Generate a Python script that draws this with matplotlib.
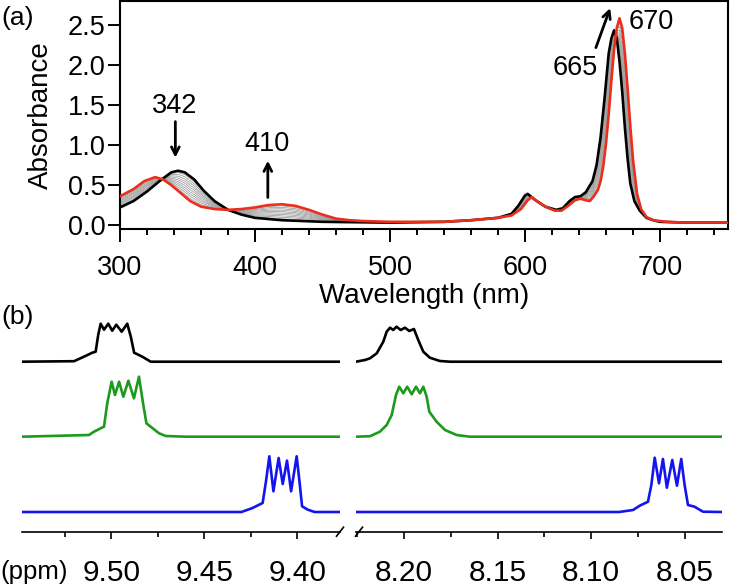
import numpy as np
import matplotlib
matplotlib.use("Agg")
import matplotlib.pyplot as plt
from matplotlib.ticker import MultipleLocator, FormatStrFormatter
from matplotlib.lines import Line2D

plt.rcParams['font.family'] = ['Liberation Sans', 'DejaVu Sans']

# ---------------- Panel (a): UV-vis data ----------------
wl_black = [300, 310, 320, 330, 338, 343, 348, 355, 362, 370, 380, 390, 400, 420, 450,
            500, 540, 560, 580, 590, 595, 600, 602, 607, 615, 623, 628, 633, 637, 641,
            645, 650, 653, 656, 659, 662, 664, 666, 668, 670, 672, 674, 676, 678, 681,
            685, 690, 695, 700, 720, 750]
abs_black = [0.22, 0.30, 0.42, 0.56, 0.66, 0.68, 0.66, 0.57, 0.43, 0.30, 0.19, 0.13, 0.09, 0.06, 0.04,
             0.03, 0.04, 0.06, 0.09, 0.14, 0.24, 0.37, 0.39, 0.32, 0.23, 0.19, 0.21, 0.30, 0.35, 0.36,
             0.41, 0.55, 0.75, 1.10, 1.60, 2.15, 2.34, 2.44, 2.34, 2.05, 1.67, 1.22, 0.83, 0.52, 0.30,
             0.18, 0.09, 0.06, 0.04, 0.03, 0.03]

wl_red = [300, 310, 318, 326, 332, 338, 345, 352, 360, 370, 380, 390, 400, 410, 420, 430,
          440, 450, 460, 470, 480, 500, 540, 560, 580, 590, 597, 602, 605, 608, 615, 622,
          627, 632, 637, 641, 645, 648, 651, 654, 656, 658, 660, 662, 664, 666, 668, 670,
          672, 674, 676, 678, 680, 683, 686, 690, 695, 705, 720, 750]
abs_red = [0.36, 0.45, 0.55, 0.60, 0.57, 0.50, 0.40, 0.30, 0.23, 0.20, 0.19, 0.20, 0.22, 0.25, 0.26, 0.24,
           0.19, 0.13, 0.08, 0.06, 0.05, 0.04, 0.04, 0.06, 0.09, 0.12, 0.20, 0.31, 0.35, 0.31, 0.23, 0.18,
           0.18, 0.24, 0.31, 0.33, 0.31, 0.30, 0.36, 0.44, 0.55, 0.74, 1.02, 1.39, 1.81, 2.20, 2.47, 2.59,
           2.47, 2.15, 1.71, 1.24, 0.82, 0.39, 0.20, 0.10, 0.06, 0.04, 0.03, 0.03]

# titration fractions for the intermediate (grey) spectra
titration_fractions = [0.09, 0.18, 0.27, 0.36, 0.45, 0.54, 0.63, 0.72, 0.81, 0.90]

# annotations: (text, x, y)
ann_labels = ["342", "410", "665", "670"]
ann_x = [340.5, 409, 637.5, 693.5]
ann_y = [1.49, 1.02, 1.97, 2.54]

# ---------------- Panel (b): NMR data ----------------
ppm_black_L = [9.548, 9.520, 9.5147, 9.5102, 9.5084, 9.5070, 9.5057, 9.5039, 9.5016, 9.4995,
               9.4973, 9.4944, 9.4914, 9.4895, 9.4877, 9.4833, 9.4788, 9.377]
int_black_L = [0, 0.5, 5, 9, 10, 27, 38, 32, 38, 31, 37, 30, 38, 25, 9, 5, 0, 0]

ppm_green_L = [9.548, 9.5120, 9.5093, 9.5057, 9.5039, 9.5022, 9.4998, 9.4980, 9.4958, 9.4935,
               9.4908, 9.4878, 9.4851, 9.4829, 9.4811, 9.4788, 9.4743, 9.4707, 9.460, 9.377]
int_green_L = [0, 1.7, 5, 8.4, 10, 33, 55, 41.7, 55, 40, 56, 38.4, 60, 33.4, 13.4, 10, 3.4, 0.7, 0, 0]

ppm_blue_L = [9.548, 9.430, 9.4240, 9.4204, 9.4186, 9.4168, 9.4150, 9.4128, 9.4100, 9.4078,
              9.4055, 9.4033, 9.4003, 9.3988, 9.3974, 9.3944, 9.3907, 9.377]
int_blue_L = [0, 0, 4, 7.4, 9, 30.7, 55.7, 20.7, 54, 28, 51.4, 20.7, 55.7, 30.7, 5.7, 2.4, 0, 0]

ppm_black_R = [8.2258, 8.2210, 8.2183, 8.2147, 8.2112, 8.2094, 8.2076, 8.2059, 8.2041, 8.2019,
               8.1996, 8.1973, 8.1948, 8.1925, 8.1898, 8.1863, 8.1809, 8.1756, 8.030]
int_black_R = [0, 1.7, 3.4, 8.4, 20, 30, 34, 31.7, 35, 31.7, 34, 30.7, 32.7, 21.7, 10, 4, 0.7, 0, 0]

ppm_green_R = [8.2258, 8.2183, 8.2130, 8.2094, 8.2067, 8.2044, 8.2027, 8.2005, 8.1984, 8.1960,
               8.1937, 8.1916, 8.1898, 8.1880, 8.1866, 8.1827, 8.1782, 8.1720, 8.165, 8.030]
int_green_R = [0, 0.5, 5, 11.7, 21.7, 41.7, 50, 43.4, 50, 42.4, 50, 43.4, 50, 40, 25, 15, 6.7, 1.7, 0, 0]

ppm_blue_R = [8.2258, 8.085, 8.0776, 8.0740, 8.0696, 8.0678, 8.0660, 8.0637, 8.0616, 8.0595,
              8.0566, 8.0541, 8.0518, 8.0500, 8.0482, 8.0447, 8.0402, 8.030]
int_blue_R = [0, 0, 2, 6.3, 10.3, 27, 54.3, 28.7, 53, 24.3, 52, 26.3, 53, 27, 7, 5.3, 0.3, 0]

nmr_xticks_L = [9.50, 9.45, 9.40]
nmr_xticks_R = [8.20, 8.15, 8.10, 8.05]

# vertical offsets of the stacked traces (layout)
offsets = {"black": 170.0, "green": 95.0, "blue": 19.7}

C_RED = '#e8301c'
C_GREEN = '#1c9a1c'
C_BLUE = '#1414ee'

W, H = 730, 586
fig = plt.figure(figsize=(W / 100, H / 100), dpi=100)

def fx(px):
    return px / W

def fy(py):
    return 1 - py / H

FS_TICK_A = 19.5
FS_LABEL = 20

# ---------------- Panel (a) ----------------
ax = fig.add_axes([fx(120), fy(229), (727.5 - 120) / W, 228 / H])
grid = np.union1d(wl_black, wl_red)
b_i = np.interp(grid, wl_black, abs_black)
r_i = np.interp(grid, wl_red, abs_red)
for f in titration_fractions:
    ax.plot(grid, (1 - f) * b_i + f * r_i, color='0.6', lw=0.55, zorder=2)
ax.plot(wl_black, abs_black, color='black', lw=1.9, zorder=3)
ax.plot(wl_red, abs_red, color=C_RED, lw=1.9, zorder=4)

ax.set_xlim(300, 750)
ax.set_ylim(-0.05, 2.807)
ax.xaxis.set_major_locator(MultipleLocator(100))
ax.xaxis.set_minor_locator(MultipleLocator(20))
ax.yaxis.set_major_locator(MultipleLocator(0.5))
ax.yaxis.set_major_formatter(FormatStrFormatter('%.1f'))
ax.tick_params(axis='x', which='major', direction='out', length=9, width=1.4,
               labelsize=FS_TICK_A, pad=10)
ax.tick_params(axis='y', which='major', direction='out', length=9, width=1.4,
               labelsize=FS_TICK_A, pad=1.5)
ax.tick_params(which='minor', direction='out', length=4.5, width=1.4)
for s in ax.spines.values():
    s.set_linewidth(1.5)
ax.set_xlabel('Wavelength (nm)', fontsize=FS_LABEL)
ax.xaxis.set_label_coords(0.5, -0.235)
ax.set_ylabel('Absorbance', fontsize=FS_LABEL)
ax.yaxis.set_label_coords(-0.108, 0.5)

for t, x, y in zip(ann_labels, ann_x, ann_y):
    ax.text(x, y, t, fontsize=FS_TICK_A, ha='center', va='center')

arrow_kw = dict(arrowstyle='->,head_length=0.55,head_width=0.28', color='black', lw=2.0)
ax.annotate('', xy=(341, 0.81), xytext=(341, 1.33), arrowprops=arrow_kw)
ax.annotate('', xy=(409.5, 0.84), xytext=(409.5, 0.31), arrowprops=arrow_kw)
ax.annotate('', xy=(663.8, 2.75), xytext=(651.8, 2.19), arrowprops=arrow_kw)

fig.text(fx(1), fy(17.5), '(a)', fontsize=19, ha='left', va='center')

# ---------------- Panel (b) ----------------
bottom_px, top_px = 531.7, 310
axL = fig.add_axes([fx(22), fy(bottom_px), 318 / W, (bottom_px - top_px) / H])
axR = fig.add_axes([fx(356), fy(bottom_px), 366 / W, (bottom_px - top_px) / H])

axL.plot(ppm_black_L, np.array(int_black_L) + offsets["black"], color='black', lw=1.9)
axL.plot(ppm_green_L, np.array(int_green_L) + offsets["green"], color=C_GREEN, lw=1.9)
axL.plot(ppm_blue_L, np.array(int_blue_L) + offsets["blue"], color=C_BLUE, lw=1.9)
axR.plot(ppm_black_R, np.array(int_black_R) + offsets["black"], color='black', lw=1.9)
axR.plot(ppm_green_R, np.array(int_green_R) + offsets["green"], color=C_GREEN, lw=1.9)
axR.plot(ppm_blue_R, np.array(int_blue_R) + offsets["blue"], color=C_BLUE, lw=1.9)

axL.set_xlim(9.548, 9.377)
axR.set_xlim(8.2258, 8.030)
for a, ticks in ((axL, nmr_xticks_L), (axR, nmr_xticks_R)):
    a.set_ylim(0, bottom_px - top_px)
    a.set_xticks(ticks)
    a.xaxis.set_major_formatter(FormatStrFormatter('%.2f'))
    a.xaxis.set_minor_locator(MultipleLocator(0.025))
    a.set_yticks([])
    for k in ('left', 'right', 'top'):
        a.spines[k].set_visible(False)
    a.spines['bottom'].set_linewidth(1.2)
    a.tick_params(which='major', direction='out', length=5, width=1.2, labelsize=21.5, pad=15)
    a.tick_params(which='minor', direction='out', length=3.6, width=1.2)
    a.patch.set_alpha(0)

# break marks
for x0 in (340, 359):
    fig.add_artist(Line2D([fx(x0 - 3.5), fx(x0 + 3.5)], [fy(bottom_px + 4.5), fy(bottom_px - 4.5)],
                          color='black', lw=1.2))

fig.text(fx(1), fy(317), '(b)', fontsize=19, ha='left', va='center')
fig.text(fx(0), fy(572.5), '(ppm)', fontsize=18.5, ha='left', va='center')

fig.savefig('out.png', dpi=100)
